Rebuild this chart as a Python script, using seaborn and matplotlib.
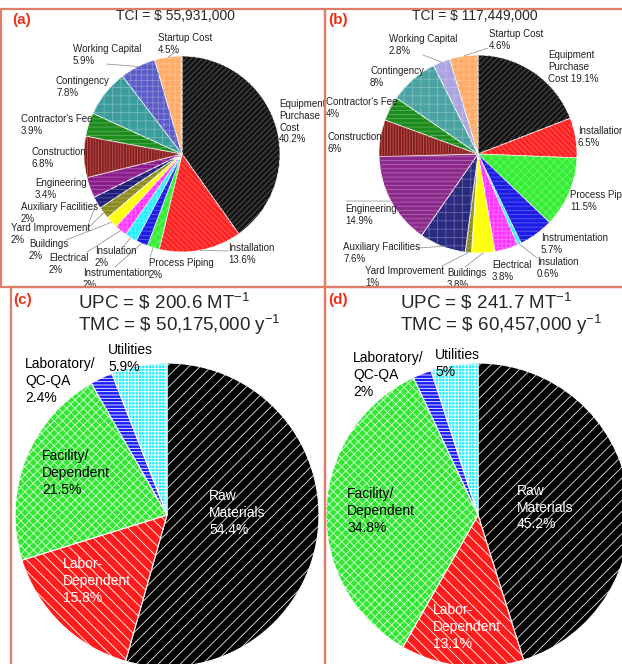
import numpy as np
import matplotlib
matplotlib.use("Agg")
import matplotlib.pyplot as plt
import seaborn as sns
from matplotlib.patches import Rectangle, Wedge
from matplotlib.colors import to_rgb

# ---- data ----
tci_names = ["Equipment\nPurchase\nCost", "Installation", "Process Piping", "Instrumentation",
             "Insulation", "Electrical", "Buildings", "Yard Improvement", "Auxiliary Facilities",
             "Engineering", "Construction", "Contractor's Fee", "Contingency", "Working Capital",
             "Startup Cost"]
tci_a = [40.2, 13.6, 2, 2, 2, 2, 2, 2, 2, 3.4, 6.8, 3.9, 7.8, 5.9, 4.5]
tci_b = [19.1, 6.5, 11.5, 5.7, 0.6, 3.8, 3.8, 1, 7.6, 14.9, 6, 4, 8, 2.8, 4.6]
tci_totals = ["55,931,000", "117,449,000"]

tmc_names = ["Raw\nMaterials", "Labor-\nDependent", "Facility/\nDependent", "Laboratory/\nQC-QA", "Utilities"]
tmc_c = [54.4, 15.8, 21.5, 2.4, 5.9]
tmc_d = [45.2, 13.1, 34.8, 2, 5]
upc_vals = ["200.6", "241.7"]
tmc_totals = ["50,175,000", "60,457,000"]

# ---- styles ----
tci_colors_a = ["#141414", "#ff2222", "#33ee33", "#1c1ce6", "#22eeff", "#ff33ff", "#ffff11",
                "#8c8c1e", "#1e1e78", "#8c1e8c", "#8c1c1c", "#1c8c1c", "#3a9c9c", "#5c5cc8", "#ffaa66"]
tci_colors_b = ["#141414", "#ff2222", "#33ee33", "#1c1ce6", "#22eeff", "#ff33ff", "#ffff11",
                "#8c8c1e", "#2a2a80", "#8c2a8c", "#8c1c1c", "#1c8c1c", "#4aa2a2", "#aaa4e0", "#ffaa66"]
tci_hatch_a = ["//////", "\\\\\\\\\\\\", "xxxx", "----", "++++", "++++", "", "----", "----",
               "----", "||||||", "----", "++", "+++", "+++"]
tci_hatch_b = ["//////", "\\\\\\\\\\\\", "xxxx", "----", "++++", "++++", "", "----", "++",
               "----", "||||||", "----", "++", "++", "+++"]
tmc_colors = ["#000000", "#ff1c1c", "#33e633", "#1a1aff", "#26f0ff"]
tmc_hatch = ["///", "\\\\\\", "xxxx", "-----", "+++++"]
tmc_hatch_colors = ["#e6e6e6", "white", "#d8ffd8", "white", "white"]
tmc_text_colors = ["white", "white", "black", "black", "black"]

pos_a = [(279, 99), (228, 243), (149, 258), (83, 268), (95, 246), (49, 253), (29, 239), (11, 223),
         (21, 202), (35, 178), (32, 147), (21, 114), (56, 76), (73, 44), (158, 33)]
pos_b = [(548, 50), (578, 126), (570, 190), (541, 233), (537, 257), (492, 260), (447, 268), (365, 266),
         (343, 242), (345, 204), (328, 132), (326, 97), (370, 66), (389, 34), (489, 29)]
lead_a = {14: (176, 52), 13: (106, 64), 8: (89, 222), 7: (86, 230), 6: (66, 240), 5: (87, 252),
          4: (123, 247), 3: (115, 267), 2: (150, 257), 1: (228, 251)}
lead_b = {14: (488, 48), 13: (423, 55), 11: (395, 101), 9: (346, 201), 8: (417, 248),
          7: (442, 266), 6: (465, 267), 4: (537, 258)}
pos_c = [(209, 489), (63, 557), (42, 449), (25, 357), (108, 343)]
pos_d = [(517, 484), (433, 603), (347, 487), (353, 351), (435, 348)]

W, H = 622, 664
LINE_PX = 11.7  # line step of the small labels
sns.set_theme(style="white")
plt.rcParams["font.family"] = ["Liberation Sans", "DejaVu Sans"]
plt.rcParams["mathtext.fontset"] = "custom"
plt.rcParams["mathtext.rm"] = "Liberation Sans"
plt.rcParams["hatch.linewidth"] = 0.6

fig = plt.figure(figsize=(W / 100, H / 100), dpi=100)
fig.patch.set_facecolor("white")


def fxy(x, y):
    return (x / W, 1 - y / H)


def pie_axes(cx, cy, r):
    return fig.add_axes([(cx - r) / W, 1 - (cy + r) / H, 2 * r / W, 2 * r / H])


def lighten(c, k):
    r, g, b = to_rgb(c)
    return (r + (1 - r) * k, g + (1 - g) * k, b + (1 - b) * k)


def draw_pie(ax, values, colors, hatches, hatch_cols, lw):
    wedges, _ = ax.pie(values, colors=colors, startangle=90, counterclock=False, radius=1,
                       wedgeprops=dict(edgecolor="white", linewidth=lw))
    for w, h, hc in zip(wedges, hatches, hatch_cols):
        if h:
            ax.add_patch(Wedge(w.center, w.r, w.theta1, w.theta2, facecolor="none",
                               edgecolor=hc, hatch=h, linewidth=0))
    ax.set_xlim(-1, 1)
    ax.set_ylim(-1, 1)
    ax.set_axis_off()
    return wedges


def tci_panel(ax, values, colors, hatches, pos, leads, equip_sep):
    hc = [lighten(c, 0.28) for c in colors]
    wedges = draw_pie(ax, values, colors, hatches, hc, 0.6)
    for i, (name, v) in enumerate(zip(tci_names, values)):
        x, y = pos[i]
        kw = dict(fontsize=7, ha="left", va="top", color="#222222", linespacing=1.25)
        if i == 0 and equip_sep != "\n":
            fig.text(*fxy(x, y), f"{name}{equip_sep}{v:g}%", **kw)
        else:
            fig.text(*fxy(x, y), name, **kw)
            n = name.count("\n") + 1
            fig.text(*fxy(x, y + n * LINE_PX), f"{v:g}%", **kw)
    for i, anchor in leads.items():
        w = wedges[i]
        ang = np.deg2rad((w.theta1 + w.theta2) / 2)
        ax.annotate("", xy=(np.cos(ang), np.sin(ang)), xycoords="data",
                    xytext=fxy(*anchor), textcoords="figure fraction",
                    arrowprops=dict(arrowstyle="-", color="#9a9a9a", lw=0.6,
                                    shrinkA=0, shrinkB=0), annotation_clip=False)


def tmc_panel(ax, values, pos):
    draw_pie(ax, values, tmc_colors, tmc_hatch, tmc_hatch_colors, 0.8)
    for name, v, p, tc in zip(tmc_names, values, pos, tmc_text_colors):
        fig.text(*fxy(*p), f"{name}\n{v:g}%", fontsize=10, ha="left", va="top",
                 color=tc, linespacing=1.25)


# panels (a), (b)
ax_a = pie_axes(182, 154, 98)
tci_panel(ax_a, tci_a, tci_colors_a, tci_hatch_a, pos_a, lead_a, "\n")
ax_b = pie_axes(478, 154, 99)
tci_panel(ax_b, tci_b, tci_colors_b, tci_hatch_b, pos_b, lead_b, " ")

# panels (c), (d)
ax_c = pie_axes(167, 515, 152)
tmc_panel(ax_c, tmc_c, pos_c)
ax_d = pie_axes(478, 515, 152)
tmc_panel(ax_d, tmc_d, pos_d)

# titles
for cx, tot in zip([176, 475], tci_totals):
    fig.text(*fxy(cx, 16), rf"TCI = \$ {tot}", fontsize=10, ha="center", va="center")
for x0, u, t in zip([78, 400], upc_vals, tmc_totals):
    fig.text(*fxy(x0, 302), rf"UPC = \$ {u} MT$^{{\mathregular{{-1}}}}$", fontsize=13.5,
             ha="left", va="center")
    fig.text(*fxy(x0, 325), rf"TMC = \$ {t} y$^{{\mathregular{{-1}}}}$", fontsize=13.5,
             ha="left", va="center")
for (x, y), lab in zip([(12, 20), (328, 20), (13, 300), (328, 300)], ["(a)", "(b)", "(c)", "(d)"]):
    fig.text(*fxy(x, y), lab, fontsize=11, fontweight="bold", color="#e8341c",
             ha="left", va="center")

# panel borders
border = "#e27c6a"
for x0, y0, x1, y1 in [(1, 9, 325, 287), (325, 9, 630, 287), (11, 287, 325, 670), (325, 287, 630, 670)]:
    fig.add_artist(Rectangle(fxy(x0, y1), (x1 - x0) / W, (y1 - y0) / H, transform=fig.transFigure,
                             fill=False, edgecolor=border, linewidth=1.6, zorder=10))

fig.savefig("out.png", dpi=100, facecolor="white")
